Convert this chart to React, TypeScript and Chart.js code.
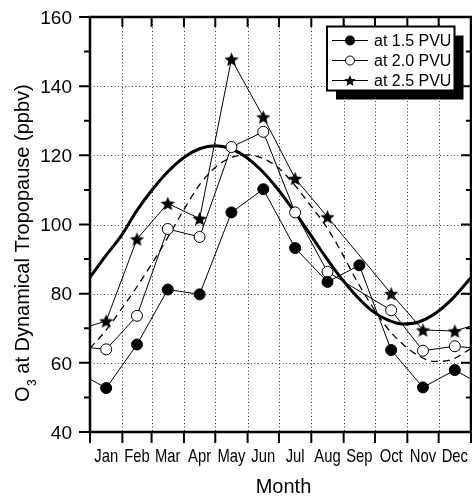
import React, { useEffect, useRef } from "react";
import { Chart, registerables } from "chart.js";

Chart.register(...registerables);

const months = ["Jan", "Feb", "Mar", "Apr", "May", "Jun", "Jul", "Aug", "Sep", "Oct", "Nov", "Dec"];
const monthDays = [31, 28, 31, 30, 31, 30, 31, 31, 30, 31, 30, 31];

const seriesLabels = ["at 1.5 PVU", "at 2.0 PVU", "at 2.5 PVU"];
const o3At15 = [52.7, 65.3, 81.2, 79.8, 103.5, 110.2, 93.2, 83.4, 88.2, 63.7, 52.9, 57.9];
const o3At20 = [63.9, 73.6, 98.7, 96.4, 122.4, 126.8, 103.5, 86.3, null, 75.2, 63.5, 64.8];
const o3At25 = [72.1, 95.8, 106.1, 101.7, 147.8, 131.1, 113.3, 102.2, null, 80.0, 69.5, 69.2];

// fitted seasonal curves (day of year -> ppbv)
const fitDays = [0, 15, 30, 45, 60, 75, 90, 105, 120, 135, 150, 165, 180, 195, 210, 225, 240, 255, 270, 285, 300, 315, 330, 345, 360, 365];
const fitThick = [84.7, 90.9, 96.8, 104.1, 110.2, 115.4, 119.4, 121.9, 122.8, 121.9, 119.4, 115.4, 110.2, 104.1, 97.6, 90.9, 84.7, 79.4, 75.1, 72.4, 71.2, 71.8, 74.1, 77.9, 82.9, 84.7];
const fitDashed = [64.2, 69.3, 75.5, 82.0, 89.0, 96.5, 104.3, 111.5, 116.5, 119.3, 120.1, 119.2, 116.5, 111.8, 106.0, 100.0, 92.5, 84.0, 76.5, 70.0, 65.3, 62.0, 60.4, 60.8, 63.2, 64.2];

const yMajorTicks = [40, 60, 80, 100, 120, 140, 160];
const yMinorTicks = [50, 70, 90, 110, 130, 150];

const yTitleMain = "O";
const yTitleSub = "3";
const yTitleRest = " at Dynamical Tropopause (ppbv)";
const xTitle = "Month";

const YEAR = monthDays.reduce((s, d) => s + d, 0);
const monthBounds: number[] = [0];
monthDays.forEach((d, i) => monthBounds.push(monthBounds[i] + d));
const monthMids = monthDays.map((d, i) => monthBounds[i] + d / 2);

function monthlyPoints(vals: (number | null)[]) {
  const pts = vals.map((v, i) => ({ x: monthMids[i], y: v }));
  // wrap-around neighbours so lines continue to the plot edges
  return [
    { x: monthMids[11] - YEAR, y: vals[11] },
    ...pts,
    { x: monthMids[0] + YEAR, y: vals[0] },
  ];
}

function starPath(g: CanvasRenderingContext2D, cx: number, cy: number, r: number) {
  g.beginPath();
  for (let i = 0; i < 10; i++) {
    const rad = i % 2 === 0 ? r : r * 0.45;
    const a = -Math.PI / 2 + (i * Math.PI) / 5;
    g.lineTo(cx + rad * Math.cos(a), cy + rad * Math.sin(a));
  }
  g.closePath();
}

function makeStar(r: number) {
  const size = Math.ceil(r * 2 + 2);
  const c = document.createElement("canvas");
  c.width = size;
  c.height = size;
  const g = c.getContext("2d")!;
  starPath(g, size / 2, size / 2 + r * 0.1, r);
  g.fillStyle = "#000";
  g.fill();
  return c;
}

const FONT = "'Liberation Sans', Arial, Helvetica, sans-serif";

const axesPlugin = {
  id: "axesPlugin",
  beforeDatasetsDraw(chart: any) {
    const { ctx, chartArea: a, scales } = chart;
    const x = scales.x, y = scales.y;
    ctx.save();
    ctx.strokeStyle = "#333";
    ctx.lineWidth = 1;
    ctx.setLineDash([1, 2.5]);
    monthBounds.slice(1, -1).forEach((b) => {
      const px = Math.round(x.getPixelForValue(b)) + 0.5;
      ctx.beginPath();
      ctx.moveTo(px, a.top);
      ctx.lineTo(px, a.bottom);
      ctx.stroke();
    });
    yMajorTicks.slice(1, -1).forEach((v) => {
      const py = Math.round(y.getPixelForValue(v)) + 0.5;
      ctx.beginPath();
      ctx.moveTo(a.left, py);
      ctx.lineTo(a.right, py);
      ctx.stroke();
    });
    ctx.restore();
  },
  afterDatasetsDraw(chart: any) {
    const { ctx, chartArea: a, scales } = chart;
    const x = scales.x, y = scales.y;
    ctx.save();
    ctx.setLineDash([]);
    ctx.strokeStyle = "#000";
    // ticks
    ctx.lineWidth = 2;
    monthBounds.forEach((b) => {
      const px = x.getPixelForValue(b);
      ctx.beginPath();
      ctx.moveTo(px, a.bottom);
      ctx.lineTo(px, a.bottom + 11);
      ctx.stroke();
      ctx.beginPath();
      ctx.moveTo(px, a.top);
      ctx.lineTo(px, a.top + 10);
      ctx.stroke();
    });
    yMajorTicks.forEach((v) => {
      const py = y.getPixelForValue(v);
      ctx.beginPath();
      ctx.moveTo(a.left - 11, py);
      ctx.lineTo(a.left, py);
      ctx.moveTo(a.right - 10, py);
      ctx.lineTo(a.right, py);
      ctx.stroke();
    });
    yMinorTicks.forEach((v) => {
      const py = y.getPixelForValue(v);
      ctx.beginPath();
      ctx.moveTo(a.left - 6, py);
      ctx.lineTo(a.left, py);
      ctx.moveTo(a.right - 5, py);
      ctx.lineTo(a.right, py);
      ctx.stroke();
    });
    // frame
    ctx.lineWidth = 2.5;
    ctx.strokeRect(a.left, a.top, a.right - a.left, a.bottom - a.top);

    // y tick labels
    ctx.fillStyle = "#000";
    ctx.font = `19px ${FONT}`;
    ctx.textAlign = "right";
    ctx.textBaseline = "alphabetic";
    yMajorTicks.forEach((v) => {
      ctx.fillText(String(v), a.left - 18, y.getPixelForValue(v) + 6.8);
    });
    // month labels (condensed)
    ctx.font = `18.5px ${FONT}`;
    ctx.textAlign = "center";
    months.forEach((m, i) => {
      ctx.save();
      ctx.translate(x.getPixelForValue(monthMids[i]), a.bottom + 29.5);
      ctx.scale(0.8, 1);
      ctx.fillText(m, 0, 0);
      ctx.restore();
    });
    // x title
    ctx.font = `20px ${FONT}`;
    ctx.fillText(xTitle, (a.left + a.right) / 2 + 3, 493);
    // y title
    ctx.save();
    ctx.translate(28.5, 402);
    ctx.rotate(-Math.PI / 2);
    ctx.textAlign = "left";
    ctx.font = `20px ${FONT}`;
    ctx.fillText(yTitleMain, 0, 0);
    const w1 = ctx.measureText(yTitleMain).width;
    ctx.font = `12px ${FONT}`;
    ctx.fillText(yTitleSub, w1 + 0.5, 7);
    const w2 = ctx.measureText(yTitleSub).width;
    ctx.font = `20px ${FONT}`;
    ctx.fillText(yTitleRest, w1 + w2 + 0.5, 0);
    ctx.restore();
    ctx.restore();
  },
  afterDraw(chart: any) {
    const { ctx } = chart;
    const left = 327, top = 26.5, w = 127.5, h = 64;
    ctx.save();
    ctx.fillStyle = "#000";
    ctx.fillRect(left + 9, top + 9, w, h);
    ctx.fillStyle = "#fff";
    ctx.fillRect(left, top, w, h);
    ctx.strokeStyle = "#000";
    ctx.lineWidth = 2;
    ctx.strokeRect(left, top, w, h);
    const rows = [40.5, 60.5, 80.5];
    ctx.font = `16px ${FONT}`;
    ctx.textAlign = "left";
    ctx.textBaseline = "alphabetic";
    seriesLabels.forEach((lab, i) => {
      const cy = rows[i];
      ctx.lineWidth = 1.2;
      ctx.beginPath();
      ctx.moveTo(left + 5, cy);
      ctx.lineTo(left + 41, cy);
      ctx.stroke();
      const mx = left + 23;
      if (i === 0) {
        ctx.fillStyle = "#000";
        ctx.beginPath();
        ctx.arc(mx, cy, 5, 0, Math.PI * 2);
        ctx.fill();
      } else if (i === 1) {
        ctx.fillStyle = "#fff";
        ctx.lineWidth = 1;
        ctx.beginPath();
        ctx.arc(mx, cy, 4.5, 0, Math.PI * 2);
        ctx.fill();
        ctx.stroke();
      } else {
        ctx.fillStyle = "#000";
        starPath(ctx, mx, cy + 0.6, 6);
        ctx.fill();
      }
      ctx.fillStyle = "#000";
      ctx.fillText(lab, left + 47, cy + 5.8);
    });
    ctx.restore();
  },
};

export default function App() {
  const ref = useRef<HTMLCanvasElement | null>(null);
  useEffect(() => {
    if (!ref.current) return;
    const star = makeStar(7.5);
    const radii = [0, ...months.map(() => 5.5), 0];
    const chart = new Chart(ref.current, {
      type: "line",
      data: {
        datasets: [
          {
            label: seriesLabels[0],
            data: monthlyPoints(o3At15),
            borderColor: "#000",
            borderWidth: 1,
            pointRadius: radii,
            pointBackgroundColor: "#000",
            pointBorderColor: "#000",
            pointBorderWidth: 1,
            spanGaps: true,
          },
          {
            label: seriesLabels[1],
            data: monthlyPoints(o3At20),
            borderColor: "#000",
            borderWidth: 1,
            pointRadius: radii,
            pointBackgroundColor: "#fff",
            pointBorderColor: "#000",
            pointBorderWidth: 1,
            spanGaps: true,
          },
          {
            label: seriesLabels[2],
            data: monthlyPoints(o3At25),
            borderColor: "#000",
            borderWidth: 1,
            pointRadius: radii,
            pointStyle: star as any,
            spanGaps: true,
          },
          {
            label: "fit",
            data: fitDays.map((d, i) => ({ x: d, y: fitThick[i] })),
            borderColor: "#000",
            borderWidth: 3,
            pointRadius: 0,
            cubicInterpolationMode: "monotone",
          },
          {
            label: "fit 2",
            data: fitDays.map((d, i) => ({ x: d, y: fitDashed[i] })),
            borderColor: "#000",
            borderWidth: 1.3,
            borderDash: [7, 5],
            pointRadius: 0,
            cubicInterpolationMode: "monotone",
          },
        ],
      },
      options: {
        animation: false,
        responsive: false,
        devicePixelRatio: 1,
        events: [],
        layout: { padding: { left: 90, right: 1, top: 17, bottom: 67 } },
        plugins: { legend: { display: false }, tooltip: { enabled: false } },
        scales: {
          x: { type: "linear", min: 0, max: YEAR, display: false },
          y: { type: "linear", min: 40, max: 160, display: false },
        },
      },
      plugins: [axesPlugin],
    });
    return () => chart.destroy();
  }, []);
  return (
    <div style={{ position: "fixed", left: 0, top: 0, width: 472, height: 499, background: "#fff" }}>
      <canvas ref={ref} width={472} height={499} style={{ display: "block" }} />
    </div>
  );
}
